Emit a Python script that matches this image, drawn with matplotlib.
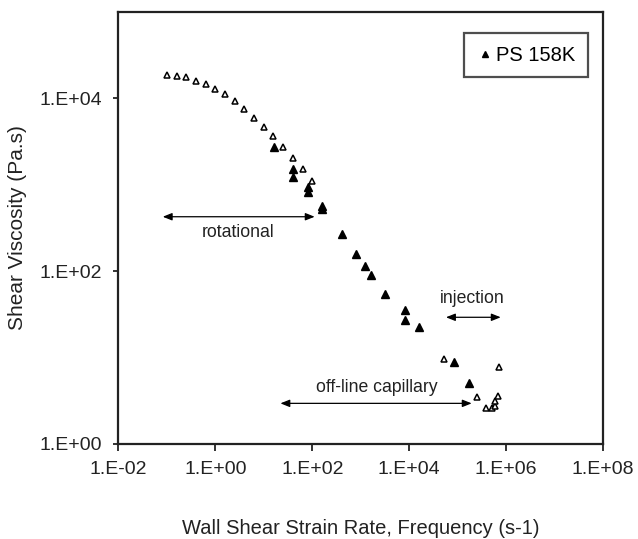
import numpy as np
import matplotlib.pyplot as plt
from matplotlib.ticker import FuncFormatter, NullLocator

plt.rcParams['font.family'] = ['Liberation Sans', 'DejaVu Sans']

# open triangles (rotational sweep + capillary / injection, unfilled)
open_x = [0.1, 0.158, 0.251, 0.398, 0.631, 1.0, 1.58, 2.51, 3.98, 6.31,
          10.0, 15.8, 25.1, 39.8, 63.1, 100.0,
          51400, 728000, 257000, 385000, 514000, 599000, 578000, 674000]
open_y = [18460, 18150, 17400, 15930, 14450, 12660, 11080, 9150, 7450, 5960,
          4690, 3620, 2720, 2050, 1510, 1090,
          9.6, 7.86, 3.49, 2.62, 2.62, 2.77, 3.17, 3.62]

# filled triangles (PS 158K)
fill_x = [16.2, 39.8, 39.8, 81.2, 81.2, 158, 158, 407, 805, 1234, 1642,
          3194, 8300, 8300, 16160, 83000, 168000]
fill_y = [2690, 1535, 1216, 940, 819, 567, 517, 271, 159, 113, 89.7,
          54.4, 35.1, 27.4, 22.6, 8.97, 5.12]

def fmt(v, pos):
    e = int(round(np.log10(v)))
    return '1.E%s%02d' % ('+' if e >= 0 else '-', abs(e))

fig = plt.figure(figsize=(6.38, 5.39), dpi=100)
ax = fig.add_axes([0.1857, 0.1763, 0.7594, 0.802])

ax.plot(open_x, open_y, linestyle='none', marker='^', markersize=5,
        markerfacecolor='white', markeredgecolor='black', markeredgewidth=1.1)
ax.plot(fill_x, fill_y, linestyle='none', marker='^', markersize=5.5,
        color='black', label='PS 158K')

ax.set_xscale('log')
ax.set_yscale('log')
ax.set_xlim(1e-2, 1e8)
ax.set_ylim(1, 1e5)
ax.set_xticks([1e-2, 1e0, 1e2, 1e4, 1e6, 1e8])
ax.set_yticks([1e0, 1e2, 1e4])
ax.xaxis.set_minor_locator(NullLocator())
ax.yaxis.set_minor_locator(NullLocator())
ax.xaxis.set_major_formatter(FuncFormatter(fmt))
ax.yaxis.set_major_formatter(FuncFormatter(fmt))
ax.tick_params(axis='both', direction='out', width=1.3, labelsize=14,
               colors='#222222')
ax.tick_params(axis='x', length=5, pad=7)
ax.tick_params(axis='y', length=3.6, pad=8.5)
for s in ax.spines.values():
    s.set_linewidth(1.6)
    s.set_color('#222222')

ax.set_xlabel('Wall Shear Strain Rate, Frequency (s-1)', fontsize=14.5,
              color='#222222', va='center')
ax.xaxis.set_label_coords(0.5, -0.1966)
ax.set_ylabel('Shear Viscosity (Pa.s)', fontsize=15, color='#222222',
              va='center')
ax.yaxis.set_label_coords(-0.2074, 0.5)

arr = dict(arrowstyle='<|-|>,head_length=0.55,head_width=0.22',
           color='black', lw=0.9, mutation_scale=10, shrinkA=0, shrinkB=0)
ax.annotate('', xy=(0.082, 425), xytext=(112, 425), arrowprops=arr)
ax.text(2.89, 249, 'rotational', fontsize=12.7, ha='center',
        va='baseline', color='#222222')
ax.annotate('', xy=(22, 2.95), xytext=(195000, 2.95), arrowprops=arr)
ax.text(2160, 4.0, 'off-line capillary', fontsize=12.7, ha='center',
        va='baseline', color='#222222')
ax.annotate('', xy=(57500, 29.2), xytext=(775000, 29.2), arrowprops=arr)
ax.text(205000, 42.4, 'injection', fontsize=12.7, ha='center',
        va='baseline', color='#222222')

leg = ax.legend(loc='upper right', bbox_to_anchor=(0.9686, 0.9498),
                borderaxespad=0, fontsize=14.5, frameon=True, fancybox=False,
                handlelength=0.83, handletextpad=0.13, markerscale=0.75,
                borderpad=0.62)
leg.get_frame().set_edgecolor('#222222')
leg.get_frame().set_linewidth(1.6)

fig.savefig('out.png', dpi=100)
